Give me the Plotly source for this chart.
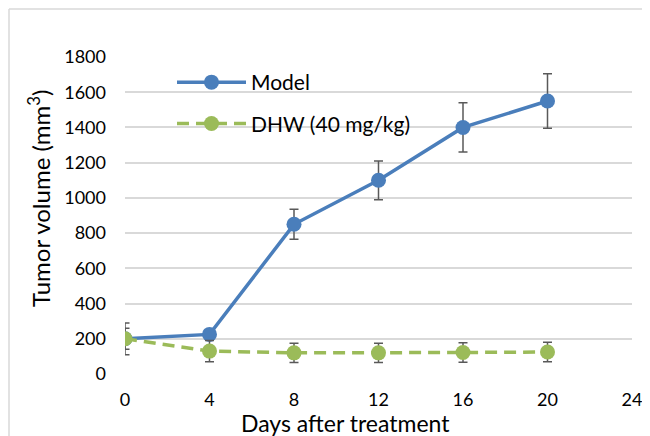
import plotly.graph_objects as go

days = [0, 4, 8, 12, 16, 20]
model_vals = [200, 225, 850, 1100, 1400, 1550]
model_err = [90, 25, 85, 110, 140, 155]
dhw_vals = [200, 130, 120, 120, 122, 125]
dhw_err = [60, 60, 55, 55, 55, 55]
x_ticks = [0, 4, 8, 12, 16, 20, 24]
y_ticks = [0, 200, 400, 600, 800, 1000, 1200, 1400, 1600, 1800]

FONT = "Lato"
blue = "#4a7ebb"
green = "#9bbb59"
errc = "#595959"

W, H = 680, 440
# plot area in figure pixels
L, R, T, B = 117, 624, 49, 366
PW, PH = R - L, B - T

fig = go.Figure()
fig.add_trace(go.Scatter(
    x=days, y=model_vals, name="Model", mode="lines+markers",
    line=dict(color=blue, width=3.5),
    marker=dict(color=blue, size=15),
    error_y=dict(type="data", array=model_err, color=errc, thickness=1.5, width=4.5),
    legendgroup="a",
))
fig.add_trace(go.Scatter(
    x=days, y=dhw_vals, name="DHW (40 mg/kg)", mode="lines+markers",
    line=dict(color=green, width=3.5, dash="12px,7px"),
    marker=dict(color=green, size=15),
    error_y=dict(type="data", array=dhw_err, color=errc, thickness=1.5, width=4.5),
    legendgroup="b",
))

border = dict(color="#d9d9d9", width=1.5)
fig.update_layout(
    width=W, height=H,
    margin=dict(l=L, r=W - R, t=T, b=H - B),
    paper_bgcolor="white", plot_bgcolor="white",
    font=dict(family=FONT, color="#000000", size=18),
    showlegend=True,
    legend=dict(x=(164 - L) / PW, y=(B - 54) / PH, xanchor="left", yanchor="top",
                bgcolor="rgba(0,0,0,0)", font=dict(size=21, family=FONT),
                tracegroupgap=11, itemwidth=69),
    xaxis=dict(range=[0, 24], tickvals=x_ticks, showgrid=False, zeroline=False,
               showline=False, ticks="", tickfont=dict(size=18), ticklabelstandoff=13),
    yaxis=dict(range=[0, 1800], tickvals=y_ticks, showgrid=True, gridcolor="#d9d9d9",
               gridwidth=1.5, zeroline=False, showline=False, ticks="",
               tickfont=dict(size=18), ticklabelstandoff=18),
    annotations=[
        dict(text="Days after treatment", xref="paper", yref="paper",
             x=(337 - L) / PW, y=(B - 415) / PH, xanchor="center", yanchor="middle",
             showarrow=False, font=dict(size=23, family=FONT)),
        dict(text="Tumor volume (mm<sup>3</sup>)", xref="paper", yref="paper",
             x=(31 - L) / PW, y=(B - 191) / PH, xanchor="center", yanchor="middle",
             textangle=-90, showarrow=False, font=dict(size=24, family=FONT)),
    ],
    shapes=[
        dict(type="line", xref="paper", yref="paper",
             x0=(1 - L) / PW, x1=(1 - L) / PW, y0=(B - H) / PH, y1=(B - 1) / PH,
             line=border, layer="below"),
        dict(type="line", xref="paper", yref="paper",
             x0=(1 - L) / PW, x1=(W - L) / PW, y0=(B - 1) / PH, y1=(B - 1) / PH,
             line=border, layer="below"),
    ],
)

fig.write_html(
    "out.html",
    config={"displayModeBar": False},
    post_script="document.body.style.overflow='hidden';document.documentElement.style.overflow='hidden';",
)
